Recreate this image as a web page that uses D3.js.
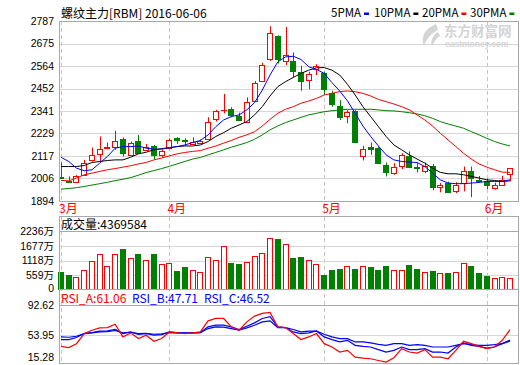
<!DOCTYPE html>
<html>
<head>
<meta charset="utf-8">
<script src="https://cdn.jsdelivr.net/npm/d3@7"></script>
<style>
    body { margin: 0; background: #fff; }
    svg { display: block; }
</style>
</head>
<body>
<div id="chart"></div>
<script>
// Daily bars of the rebar main contract, 2016-03-14 .. 2016-06-06
const opens  = [2014, 1995, 1988, 2024, 2098, 2126, 2158, 2164, 2202, 2126, 2194, 2151, 2167, 2118, 2156, 2209, 2198, 2180, 2185, 2205,
                2301, 2344, 2350, 2316, 2288, 2392, 2494, 2596, 2713, 2589, 2588, 2535, 2492, 2551, 2527, 2431, 2365, 2317, 2340, 2118,
                2164, 2159, 2074, 2037, 2070, 2118, 2065, 2046, 2070, 1963, 1983, 1947, 1980, 2041, 2000, 1991, 1958, 1972, 2029];
const highs  = [2085, 2016, 2022, 2098, 2159, 2214, 2184, 2243, 2209, 2189, 2222, 2177, 2172, 2148, 2205, 2211, 2205, 2210, 2200, 2309,
                2346, 2425, 2359, 2332, 2408, 2489, 2580, 2761, 2716, 2757, 2631, 2565, 2535, 2573, 2535, 2441, 2395, 2345, 2345, 2168,
                2184, 2164, 2085, 2082, 2131, 2140, 2082, 2085, 2078, 1983, 1990, 1987, 2065, 2065, 2018, 2005, 1985, 2019, 2057];
const lows   = [2003, 1983, 1985, 2019, 2090, 2090, 2151, 2148, 2115, 2123, 2131, 2144, 2102, 2112, 2151, 2177, 2168, 2172, 2180, 2200,
                2288, 2329, 2309, 2293, 2283, 2387, 2489, 2589, 2576, 2568, 2507, 2441, 2448, 2519, 2420, 2362, 2296, 2280, 2181, 2095,
                2123, 2082, 2016, 2024, 2052, 2057, 2036, 2032, 1947, 1937, 1934, 1933, 1942, 1913, 1985, 1953, 1950, 1970, 1991];
const closes = [2008, 1988, 2019, 2085, 2123, 2151, 2162, 2194, 2131, 2184, 2135, 2164, 2121, 2140, 2197, 2200, 2192, 2189, 2193, 2288,
                2339, 2346, 2321, 2296, 2385, 2481, 2571, 2725, 2601, 2617, 2540, 2490, 2524, 2565, 2448, 2378, 2309, 2337, 2184, 2153,
                2154, 2085, 2041, 2065, 2123, 2065, 2060, 2070, 1966, 1975, 1938, 1975, 2041, 2008, 1995, 1972, 1975, 1999, 2057];

// Moving averages as drawn on the chart
const ma5  = [2111, 2090, 2057, 2044, 2049, 2082, 2115, 2156, 2164, 2164, 2167, 2156, 2151, 2151, 2159, 2164, 2172, 2184, 2194, 2222,
              2263, 2296, 2313, 2321, 2346, 2382, 2444, 2519, 2584, 2609, 2612, 2596, 2560, 2547, 2527, 2481, 2440, 2391, 2329, 2266,
              2214, 2167, 2123, 2098, 2090, 2087, 2085, 2065, 2032, 1999, 1983, 1980, 1980, 1983, 1986, 1991, 1991, 1991, 1999];
const ma10 = [2065, 2065, 2065, 2070, 2085, 2090, 2095, 2098, 2098, 2111, 2128, 2136, 2148, 2154, 2158, 2164, 2167, 2167, 2172, 2189,
              2214, 2233, 2255, 2271, 2288, 2321, 2362, 2415, 2461, 2486, 2507, 2527, 2543, 2555, 2556, 2543, 2519, 2473, 2420, 2362,
              2313, 2263, 2214, 2172, 2148, 2123, 2102, 2082, 2057, 2036, 2029, 2029, 2024, 2016, 2008, 1999, 1996, 1991, 1994];
const ma20 = [1996, 1994, 2008, 2024, 2032, 2041, 2049, 2055, 2062, 2069, 2078, 2085, 2098, 2107, 2118, 2128, 2135, 2140, 2144, 2156,
              2167, 2181, 2194, 2210, 2222, 2238, 2266, 2299, 2329, 2349, 2362, 2379, 2390, 2403, 2420, 2428, 2437, 2440, 2436, 2428,
              2415, 2398, 2387, 2375, 2362, 2346, 2321, 2296, 2266, 2230, 2197, 2164, 2131, 2102, 2078, 2062, 2049, 2037, 2036];
const ma30 = [1953, 1956, 1960, 1966, 1973, 1980, 1987, 1995, 2002, 2010, 2022, 2035, 2045, 2055, 2066, 2078, 2090, 2102, 2110, 2123,
              2135, 2148, 2161, 2172, 2184, 2200, 2222, 2247, 2266, 2283, 2296, 2309, 2321, 2329, 2337, 2342, 2346, 2349, 2349, 2349,
              2349, 2346, 2342, 2341, 2337, 2332, 2326, 2317, 2304, 2288, 2276, 2266, 2255, 2238, 2222, 2205, 2189, 2177, 2167];

// Volume in 万 (10k lots)
const volumes = [682, 569, 480, 758, 1099, 1352, 897, 1352, 1554, 1200, 1364, 1124, 1364, 973, 1011, 720, 859, 758, 682, 1238,
                 1124, 1655, 1023, 985, 1061, 1276, 1390, 1959, 1921, 1731, 1200, 1238, 1124, 973, 569, 758, 796, 897, 796, 897,
                 859, 758, 910, 758, 758, 948, 796, 682, 720, 632, 645, 682, 1011, 910, 645, 531, 455, 480, 437];
const lastVolume = 4369584;

// RSI lines
const rsiA = [39.8, 38.1, 43.2, 56.1, 60.4, 63.4, 63.8, 68.1, 51.8, 57.0, 49.7, 54.0, 46.2, 49.7, 58.2, 57.0, 56.1, 57.0, 58.2, 72.4,
              75.4, 75.4, 64.7, 60.4, 71.1, 78.4, 81.9, 83.2, 64.7, 63.8, 56.1, 48.4, 51.8, 56.1, 43.2, 38.9, 32.5, 34.6, 26.0, 24.7,
              23.9, 21.7, 19.6, 25.2, 36.8, 32.5, 31.2, 35.5, 26.0, 26.0, 23.9, 34.6, 46.2, 43.2, 39.8, 36.8, 38.9, 47.5, 61.06];
const rsiB = [48.4, 48.4, 51.0, 56.1, 57.4, 59.1, 59.5, 61.3, 56.1, 58.2, 55.2, 56.1, 54.0, 54.8, 58.2, 57.4, 57.0, 57.0, 57.4, 64.7,
              66.8, 66.8, 64.7, 61.3, 65.5, 69.8, 75.4, 77.6, 64.7, 63.8, 58.2, 56.1, 57.0, 59.5, 51.8, 48.4, 45.4, 47.5, 41.1, 39.8,
              38.9, 35.5, 32.5, 34.6, 38.9, 35.5, 35.5, 36.8, 32.5, 32.5, 31.2, 38.9, 44.1, 41.1, 39.8, 37.6, 38.9, 43.2, 47.71];
const rsiC = [51.8, 51.4, 52.7, 56.1, 57.0, 58.2, 58.7, 60.0, 57.0, 57.8, 56.1, 56.5, 55.2, 55.7, 57.4, 57.0, 57.0, 57.0, 57.4, 62.5,
              64.7, 64.3, 62.5, 60.4, 63.4, 66.8, 71.1, 72.4, 63.8, 63.8, 61.3, 58.2, 59.1, 59.1, 55.2, 51.8, 49.7, 49.7, 45.4, 45.4,
              44.1, 42.3, 41.1, 43.2, 43.2, 41.1, 41.9, 41.1, 38.9, 38.9, 38.9, 41.1, 43.2, 41.9, 41.1, 41.1, 41.9, 43.2, 46.52];

// Axis ticks and month markers
const priceTicks = [1894, 2006, 2117, 2229, 2341, 2452, 2564, 2675, 2787];
const volTicks = [0, 559, 1118, 1677, 2236];
const rsiTicks = [15.28, 53.95, 92.62];
const monthLabels = ["3月", "4月", "5月", "6月"];
const monthIndex = [0, 14, 34, 55];

const RED = "#ff0000", GREEN = "#008000", BLUE = "#0000ff", BLACK = "#000000";
const FRAME = "#a8a8a8", GRID = "#d6d6d6";
const CJK = "'Noto Sans CJK SC', sans-serif";
const NUM = "'Liberation Sans', Arial, sans-serif";

const W = 520, H = 365;
const left = 59, right = 519;
const n = closes.length;

const svg = d3.select("#chart").append("svg")
    .attr("width", W).attr("height", H);

const x = d3.scaleLinear().domain([0, n - 1]).range([61, 510]);
const px = i => Math.round(x(i)) + 0.5;
const crisp = v => Math.round(v) + 0.5;
const isUp = i => closes[i] >= opens[i];

// shared helper: left labels for a panel
function drawAxis(scale, ticks, fmt) {
    const ax = svg.append("g")
        .attr("transform", `translate(${left},0)`)
        .call(d3.axisLeft(scale).tickValues(ticks).tickSize(0).tickPadding(5).tickFormat(fmt));
    ax.select(".domain").remove();
    ax.selectAll("text")
        .attr("font-family", NUM).attr("font-size", 10.5).attr("fill", "#000");
    return ax;
}

function hline(yv, color) {
    svg.append("line")
        .attr("x1", left).attr("x2", right)
        .attr("y1", crisp(yv)).attr("y2", crisp(yv))
        .attr("stroke", color);
}

// ---------- main price panel ----------
const y = d3.scaleLinear().domain([1894, 2787]).range([201, 21]);

priceTicks.slice(1, -1).forEach(t => hline(y(t), GRID));
drawAxis(y, priceTicks, d => d);

// month separators through all three panels
svg.append("g").selectAll("line")
    .data(monthIndex)
    .join("line")
    .attr("x1", i => px(i)).attr("x2", i => px(i))
    .attr("y1", 21).attr("y2", 363)
    .attr("stroke", "#c4c4c4")
    .attr("stroke-dasharray", "4,3");

// watermark
svg.append("text")
    .attr("x", 444).attr("y", 36)
    .attr("font-family", CJK).attr("font-size", 13.5).attr("font-weight", "bold")
    .attr("fill", "#d4d4d4")
    .text("东方财富网");
svg.append("text")
    .attr("x", 445).attr("y", 47)
    .attr("font-family", NUM).attr("font-size", 8.5).attr("font-weight", "bold")
    .attr("fill", "#d4d4d4")
    .text("eastmoney.com");
svg.append("path")
    .attr("d", "M436,24 C426,28 420,36 424,46 C426,40 430,34 438,30 Z M438,32 C432,36 430,42 432,46 C434,42 436,38 440,36 Z")
    .attr("fill", "#d4d4d4");

svg.append("clipPath").attr("id", "mainClip")
    .append("rect").attr("x", left).attr("y", 21).attr("width", right - left).attr("height", 180);

const main = svg.append("g").attr("clip-path", "url(#mainClip)");

// candles: wick first, body over it
main.selectAll(".wick")
    .data(d3.range(n))
    .join("line")
    .attr("class", "wick")
    .attr("x1", i => px(i)).attr("x2", i => px(i))
    .attr("y1", i => y(highs[i])).attr("y2", i => y(lows[i]))
    .attr("stroke", i => isUp(i) ? RED : GREEN);

main.selectAll(".body")
    .data(d3.range(n))
    .join("rect")
    .attr("class", "body")
    .attr("x", i => px(i) - 3)
    .attr("width", 5)
    .attr("y", i => crisp(y(Math.max(opens[i], closes[i]))))
    .attr("height", i => Math.max(0.01, Math.round(Math.abs(y(opens[i]) - y(closes[i])))))
    .attr("fill", i => isUp(i) ? "#fff" : GREEN)
    .attr("stroke", i => isUp(i) ? RED : GREEN);

const maLine = d3.line().x((d, i) => x(i)).y(d => y(d));
[[ma30, GREEN], [ma20, RED], [ma10, BLACK], [ma5, BLUE]].forEach(([s, c]) => {
    main.append("path")
        .attr("d", maLine(s))
        .attr("fill", "none")
        .attr("stroke", c)
        .attr("stroke-width", 1);
});

svg.append("rect")
    .attr("x", left + 0.5).attr("y", 21.5)
    .attr("width", right - left - 1).attr("height", 180)
    .attr("fill", "none").attr("stroke", FRAME);

// title + MA legend
svg.append("text")
    .attr("x", 61).attr("y", 18)
    .attr("font-family", CJK).attr("font-size", 12)
    .text("螺纹主力[RBM] 2016-06-06");

const legend = [["5PMA", BLUE, 331], ["10PMA", BLACK, 374], ["20PMA", RED, 422], ["30PMA", GREEN, 470]];
legend.forEach(([label, c, lx]) => {
    const t = svg.append("text")
        .attr("x", lx).attr("y", 17)
        .attr("font-family", CJK).attr("font-size", 11.5)
        .text(label);
    const w = t.node().getComputedTextLength();
    svg.append("rect")
        .attr("x", lx + w + 3).attr("y", 12.5)
        .attr("width", 5).attr("height", 2.5)
        .attr("fill", c);
});

// month labels
svg.append("g").selectAll("text")
    .data(monthIndex)
    .join("text")
    .attr("x", i => x(i) - 2).attr("y", 213)
    .attr("font-family", CJK).attr("font-size", 12)
    .attr("fill", RED)
    .text((d, k) => monthLabels[k]);

// ---------- volume panel ----------
const yv = d3.scaleLinear().domain([0, 2236]).range([290, 231]);

volTicks.slice(1, -1).forEach(t => hline(yv(t), GRID));
hline(231, FRAME);
const vax = drawAxis(yv, volTicks, d => d);
// unit glyph in a CJK face after the digits
vax.selectAll(".tick").filter(d => d !== 0).select("text")
    .append("tspan")
    .attr("font-family", CJK).attr("font-size", 10.5)
    .text("万");
vax.selectAll(".tick").filter(d => d === 0).select("text").attr("dy", "0.1em");

svg.append("g").selectAll("rect")
    .data(d3.range(n))
    .join("rect")
    .attr("x", i => px(i) - 3)
    .attr("width", 5)
    .attr("y", i => crisp(yv(volumes[i])))
    .attr("height", i => Math.round(yv(0) - yv(volumes[i])) - 1)
    .attr("fill", i => isUp(i) ? "#fff" : GREEN)
    .attr("stroke", i => isUp(i) ? RED : GREEN);

svg.append("rect")
    .attr("x", left + 0.5).attr("y", 216.5)
    .attr("width", right - left - 1).attr("height", 73)
    .attr("fill", "none").attr("stroke", FRAME);

svg.append("text")
    .attr("x", 61).attr("y", 229)
    .attr("font-family", CJK).attr("font-size", 12)
    .text("成交量:" + lastVolume);

// ---------- RSI panel ----------
const yr = d3.scaleLinear().domain([15.28, 92.62]).range([365.5, 305]);

hline(yr(53.95), GRID);
hline(305, FRAME);
const rax = drawAxis(yr, rsiTicks, d3.format(".2f"));
rax.selectAll(".tick").filter(d => d === 15.28).select("text").attr("dy", "-0.45em");

const rsiLine = d3.line().x((d, i) => x(i)).y(d => yr(d));
[[rsiC, BLUE], [rsiB, BLUE], [rsiA, RED]].forEach(([s, c]) => {
    svg.append("path")
        .attr("d", rsiLine(s))
        .attr("fill", "none")
        .attr("stroke", c)
        .attr("stroke-width", 1.2);
});

svg.append("rect")
    .attr("x", left + 0.5).attr("y", 289.5)
    .attr("width", right - left - 1).attr("height", 74)
    .attr("fill", "none").attr("stroke", FRAME);

const rsiLabels = [["RSI_A:", rsiA, RED, 61], ["RSI_B:", rsiB, BLUE, 132], ["RSI_C:", rsiC, BLUE, 204]];
rsiLabels.forEach(([name, s, c, lx]) => {
    svg.append("text")
        .attr("x", lx).attr("y", 303)
        .attr("font-family", CJK).attr("font-size", 12)
        .attr("fill", c)
        .text(name + d3.format(".2f")(s[n - 1]));
});
</script>
</body>
</html>
